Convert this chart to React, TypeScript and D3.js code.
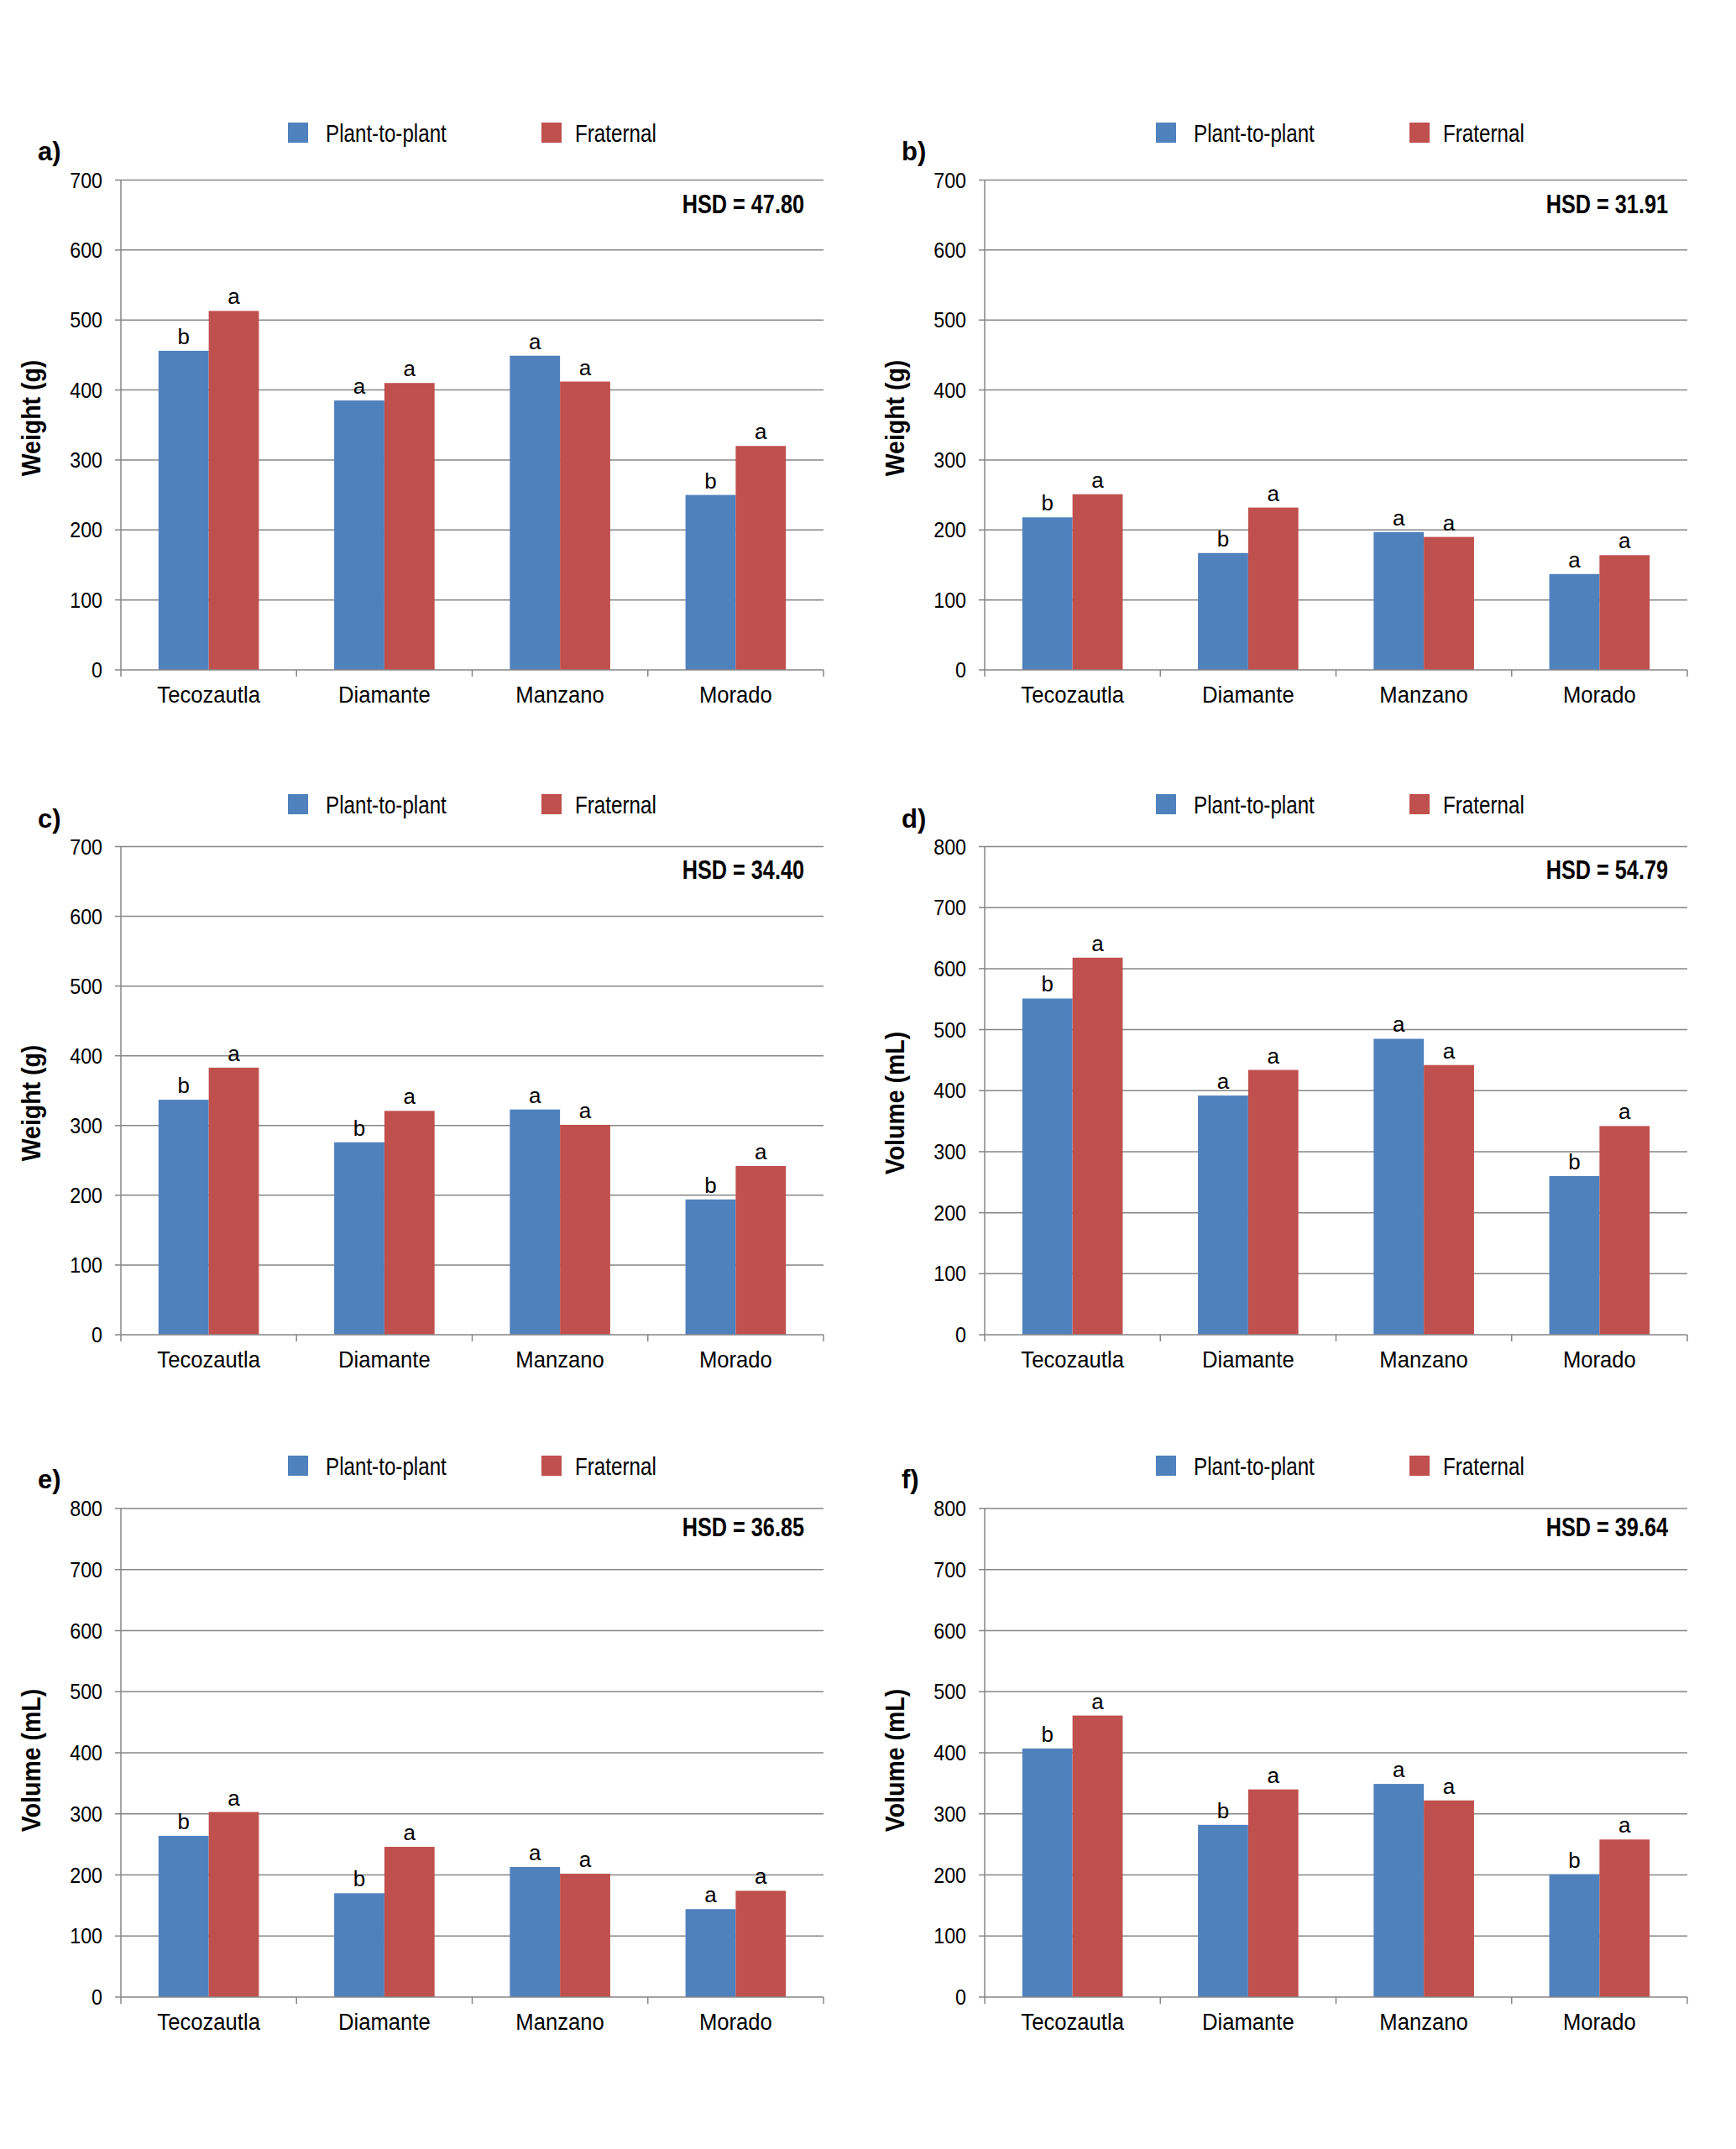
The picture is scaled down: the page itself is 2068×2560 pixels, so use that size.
import { useEffect, useRef } from 'react';
import * as d3 from 'd3';

const categories = ['Tecozautla', 'Diamante', 'Manzano', 'Morado'];
const seriesNames = ['Plant-to-plant', 'Fraternal'];
const seriesColors = ['#4F81BD', '#C0504D'];

const panelLabels = ['a)', 'b)', 'c)', 'd)', 'e)', 'f)'];
const yTitles = ['Weight (g)', 'Weight (g)', 'Weight (g)', 'Volume (mL)', 'Volume (mL)', 'Volume (mL)'];
const yMaxes = [700, 700, 700, 800, 800, 800];
const hsdLabels = ['HSD = 47.80', 'HSD = 31.91', 'HSD = 34.40', 'HSD = 54.79', 'HSD = 36.85', 'HSD = 39.64'];

// values read per panel, order follows categories
const plantValues = [
  [456, 385, 449, 250],
  [218, 167, 197, 137],
  [337, 276, 323, 194],
  [551, 392, 485, 260],
  [264, 170, 213, 144],
  [407, 282, 349, 201],
];
const fraternalValues = [
  [513, 410, 412, 320],
  [251, 232, 190, 164],
  [383, 321, 301, 242],
  [618, 434, 442, 342],
  [303, 246, 202, 174],
  [461, 340, 322, 258],
];
const plantLetters = [
  ['b', 'a', 'a', 'b'],
  ['b', 'b', 'a', 'a'],
  ['b', 'b', 'a', 'b'],
  ['b', 'a', 'a', 'b'],
  ['b', 'b', 'a', 'a'],
  ['b', 'b', 'a', 'b'],
];
const fraternalLetters = [
  ['a', 'a', 'a', 'a'],
  ['a', 'a', 'a', 'a'],
  ['a', 'a', 'a', 'a'],
  ['a', 'a', 'a', 'a'],
  ['a', 'a', 'a', 'a'],
  ['a', 'a', 'a', 'a'],
];

const SANS = '"Liberation Sans", Arial, sans-serif';
const GRID = '#868686';

export default function App() {
  const svgRef = useRef<SVGSVGElement>(null);

  useEffect(() => {
    if (!svgRef.current) return;
    const svg = d3.select(svgRef.current);
    svg.selectAll('*').remove();

    const width = 2068;
    const height = 2560;
    svg.append('rect').attr('width', width).attr('height', height).attr('fill', '#fff');

    // layout: two columns, three rows
    const colOrigin = [0, 1034];
    const colLeft = [144, 1173];
    const plotWidth = 837;
    const rows = [
      { top: 214.5, bottom: 798, legendY: 158, labelY: 191, hsdY: 254, titleY: 498 },
      { top: 1008.5, bottom: 1590, legendY: 958, labelY: 986, hsdY: 1047, titleY: 1314 },
      { top: 1797, bottom: 2379, legendY: 1746, labelY: 1773, hsdY: 1830, titleY: 2097 },
    ];

    // condensed look: horizontal squeeze around the anchor point
    const squeezed = (parent: any, x: number, y: number, k: number, text: string, size: number, bold: boolean, anchor = 'start') =>
      parent.append('text')
        .attr('transform', `translate(${x},${y}) scale(${k},1)`)
        .attr('text-anchor', anchor)
        .attr('font-family', SANS)
        .attr('font-weight', bold ? 'bold' : 'normal')
        .attr('font-size', size)
        .attr('fill', '#000')
        .text(text);

    panelLabels.forEach((label, i) => {
      const row = rows[Math.floor(i / 2)];
      const origin = colOrigin[i % 2];
      const left = colLeft[i % 2];
      const right = left + plotWidth;

      const x = d3.scaleBand().domain(categories).range([left, right]).paddingInner(0).paddingOuter(0);
      const xSub = d3.scaleBand().domain(seriesNames).range([0, x.bandwidth()]).paddingInner(0).paddingOuter(0.75);
      const y = d3.scaleLinear().domain([0, yMaxes[i]]).range([row.bottom, row.top]);

      const g = svg.append('g');

      // gridlines
      const ticks = d3.range(0, yMaxes[i] + 1, 100);
      g.selectAll('.grid')
        .data(ticks.filter(t => t > 0))
        .enter().append('line')
        .attr('x1', left).attr('x2', right)
        .attr('y1', d => y(d)).attr('y2', d => y(d))
        .attr('stroke', GRID).attr('stroke-width', 1.5);

      // y axis
      g.append('line')
        .attr('x1', left).attr('x2', left)
        .attr('y1', row.top).attr('y2', row.bottom)
        .attr('stroke', GRID).attr('stroke-width', 1.5);
      g.selectAll('.ytick')
        .data(ticks)
        .enter().append('line')
        .attr('x1', left - 7).attr('x2', left)
        .attr('y1', d => y(d)).attr('y2', d => y(d))
        .attr('stroke', GRID).attr('stroke-width', 1.5);
      ticks.forEach(t => {
        squeezed(g, left - 22, y(t) + 9, 0.93, String(t), 25, false, 'end');
      });

      // bars
      const data = categories.map((c, ci) => ({
        category: c,
        values: [plantValues[i][ci], fraternalValues[i][ci]],
        letters: [plantLetters[i][ci], fraternalLetters[i][ci]],
      }));

      const groups = g.selectAll('.cat')
        .data(data)
        .enter().append('g')
        .attr('transform', d => `translate(${x(d.category)},0)`);

      seriesNames.forEach((s, si) => {
        groups.append('rect')
          .attr('x', xSub(s)!)
          .attr('y', d => y(d.values[si]))
          .attr('width', xSub.bandwidth())
          .attr('height', d => row.bottom - y(d.values[si]))
          .attr('fill', seriesColors[si]);

        groups.append('text')
          .attr('x', xSub(s)! + xSub.bandwidth() / 2)
          .attr('y', d => y(d.values[si]) - 8)
          .attr('text-anchor', 'middle')
          .attr('font-family', SANS)
          .attr('font-size', 26)
          .attr('fill', '#000')
          .text(d => d.letters[si]);
      });

      // x axis
      g.append('line')
        .attr('x1', left).attr('x2', right)
        .attr('y1', row.bottom).attr('y2', row.bottom)
        .attr('stroke', GRID).attr('stroke-width', 1.5);
      const bounds = categories.map(c => x(c)!).concat([right]);
      g.selectAll('.xtick')
        .data(bounds)
        .enter().append('line')
        .attr('x1', d => d).attr('x2', d => d)
        .attr('y1', row.bottom).attr('y2', row.bottom + 8)
        .attr('stroke', GRID).attr('stroke-width', 1.5);
      categories.forEach(c => {
        squeezed(g, x(c)! + x.bandwidth() / 2, row.bottom + 39, 0.95, c, 27, false, 'middle');
      });

      // y title
      g.append('text')
        .attr('transform', `translate(${left - 96},${row.titleY}) rotate(-90) scale(0.89,1)`)
        .attr('text-anchor', 'middle')
        .attr('font-family', SANS)
        .attr('font-weight', 'bold')
        .attr('font-size', 32)
        .attr('fill', '#000')
        .text(yTitles[i]);

      // panel label
      g.append('text')
        .attr('x', left - 99)
        .attr('y', row.labelY)
        .attr('font-family', SANS)
        .attr('font-weight', 'bold')
        .attr('font-size', 31)
        .attr('fill', '#000')
        .text(label);

      // HSD
      squeezed(g, right - 23, row.hsdY, 0.815, hsdLabels[i], 31, true, 'end');

      // legend
      const legendX = [origin + 343, origin + 645];
      const textGap = [45, 40];
      seriesNames.forEach((s, si) => {
        g.append('rect')
          .attr('x', legendX[si])
          .attr('y', row.legendY - 12)
          .attr('width', 24)
          .attr('height', 24)
          .attr('fill', seriesColors[si]);
        squeezed(g, legendX[si] + textGap[si], row.legendY + 10.5, 0.82, s, 29.5, false);
      });
    });
  }, []);

  return (
    <svg
      ref={svgRef}
      width={2068}
      height={2560}
      style={{ position: 'absolute', left: 0, top: 0, display: 'block' }}
    />
  );
}
